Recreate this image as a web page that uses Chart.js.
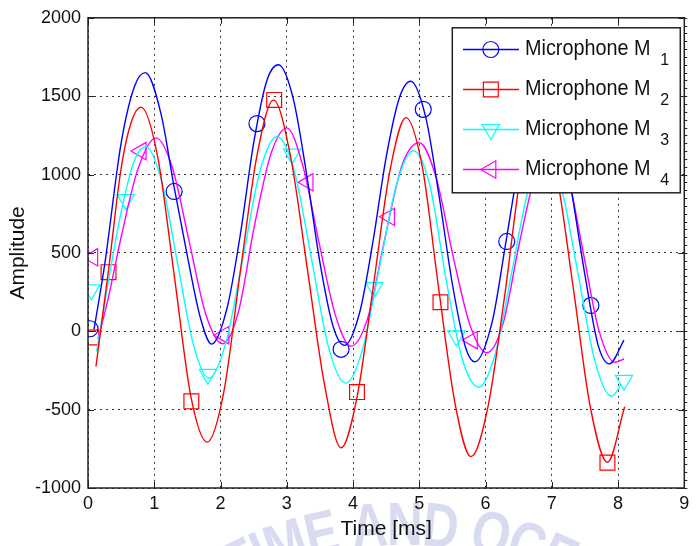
<!DOCTYPE html>
<html>
<head>
<meta charset="utf-8">
<script src="https://cdn.jsdelivr.net/npm/chart.js@4.4.0/dist/chart.umd.min.js"></script>
<style>
  html, body { margin: 0; padding: 0; background: #fff; }
</style>
</head>
<body>
<canvas id="chart" width="696" height="546"></canvas>
<script>
// axis ticks
const xTicks = [0, 1, 2, 3, 4, 5, 6, 7, 8, 9];
const yTicks = [-1000, -500, 0, 500, 1000, 1500, 2000];

// microphone M1 (blue)
const m1Time = [0.09, 0.25, 0.5, 0.7, 0.865, 1.1, 1.3, 1.5, 1.7, 1.865, 2.1, 2.3, 2.5, 2.7, 2.875, 3.1, 3.3, 3.5, 3.7, 3.87, 4.1, 4.3, 4.5, 4.7, 4.87, 5.1, 5.3, 5.5, 5.7, 5.84, 6.1, 6.3, 6.5, 6.7, 6.87, 7.1, 7.3, 7.5, 7.7, 7.87, 8.09];
const m1Amp = [10, 420, 1200, 1560, 1650, 1390, 920, 480, 80, -82, 150, 620, 1200, 1600, 1700, 1480, 1000, 440, 30, -90, 120, 570, 1110, 1490, 1595, 1360, 860, 300, -105, -195, 60, 550, 1060, 1480, 1600, 1370, 890, 360, -90, -208, -56];
const m1MarkT = [0.03, 1.30, 2.55, 3.82, 5.06, 6.32, 7.59];
const m1MarkV = [16, 892, 1325, -115, 1416, 573, 165];

// microphone M2 (red)
const m2Time = [0.12, 0.31, 0.5, 0.65, 0.8, 1.05, 1.3, 1.55, 1.8, 2.05, 2.3, 2.55, 2.8, 3.055, 3.31, 3.565, 3.82, 4.065, 4.31, 4.555, 4.8, 5.045, 5.29, 5.535, 5.78, 6.035, 6.29, 6.545, 6.8, 7.06, 7.32, 7.58, 7.84, 8.1];
const m2Amp = [-225, 390, 1040, 1330, 1430, 1117, 361, -410, -707, -387, 384, 1120, 1475, 1120, 400, -330, -743, -410, 300, 1020, 1363, 1050, 282, -450, -800, -485, 230, 1035, 1350, 1030, 290, -480, -836, -482];
const m2MarkT = [0.05, 0.31, 1.56, 2.81, 4.06, 5.32, 7.84];
const m2MarkV = [-40, 377, -447, 1476, -388, 185, -838];

// microphone M3 (cyan)
const m3Time = [0.13, 0.25, 0.5, 0.7, 0.875, 1.11, 1.35, 1.59, 1.825, 2.08, 2.34, 2.59, 2.85, 3.11, 3.37, 3.63, 3.89, 4.145, 4.4, 4.655, 4.91, 5.16, 5.405, 5.65, 5.9, 6.15, 6.4, 6.65, 6.9, 7.15, 7.4, 7.65, 7.9, 8.05];
const m3Amp = [-130, 175, 760, 1090, 1177, 960, 438, -84, -300, -74, 470, 1014, 1241, 1030, 470, -101, -331, -114, 410, 934, 1152, 931, 330, -180, -357, -139, 386, 911, 1130, 903, 357, -189, -415, -340];
const m3MarkT = [0.05, 0.57, 1.81, 3.08, 4.32, 5.56, 8.09];
const m3MarkV = [265, 840, -275, 1130, 278, -30, -313];

// microphone M4 (magenta)
const m4Time = [0.15, 0.3, 0.5, 0.75, 1.025, 1.275, 1.525, 1.775, 2.03, 2.27, 2.515, 2.76, 3.0, 3.24, 3.485, 3.73, 3.97, 4.23, 4.485, 4.74, 5.0, 5.255, 5.51, 5.765, 6.02, 6.265, 6.51, 6.755, 7.0, 7.24, 7.475, 7.71, 7.95, 8.09];
const m4Amp = [-50, 200, 600, 1030, 1234, 1042, 577, 112, -80, 122, 680, 1130, 1298, 1060, 570, 108, -95, 95, 600, 1060, 1203, 980, 480, 40, -137, 50, 560, 1003, 1200, 995, 501, 7, -198, -177];
const m4MarkT = [0.07, 0.8, 2.05, 3.32, 4.55, 5.80];
const m4MarkV = [472, 1150, -25, 950, 730, -57];

const legendNames = ['Microphone M', 'Microphone M', 'Microphone M', 'Microphone M'];
const legendSubs = ['1', '2', '3', '4'];
const sealText = 'KOREA MARITIME AND OCEAN UNIVERSITY';

const FONT = '"Liberation Sans", Arial, sans-serif';
Chart.defaults.font.family = FONT;
Chart.defaults.color = '#111';

const pts = (xs, ys) => xs.map((x, i) => ({ x: x, y: ys[i] }));

const series = [
    { c: '#0000ff', t: m1Time, v: m1Amp, mt: m1MarkT, mv: m1MarkV, style: 'circle', rot: 0, r: 8 },
    { c: '#ff0000', t: m2Time, v: m2Amp, mt: m2MarkT, mv: m2MarkV, style: 'rect', rot: 0, r: 10.5 },
    { c: '#00ffff', t: m3Time, v: m3Amp, mt: m3MarkT, mv: m3MarkV, style: 'triangle', rot: 180, r: 10 },
    { c: '#ff00ff', t: m4Time, v: m4Amp, mt: m4MarkT, mv: m4MarkV, style: 'triangle', rot: -90, r: 10 }
];

const datasets = [];
series.forEach(s => {
    datasets.push({
        data: pts(s.t, s.v),
        borderColor: s.c,
        borderWidth: 1.4,
        pointRadius: 0,
        cubicInterpolationMode: 'monotone',
        fill: false
    });
});
series.forEach(s => {
    datasets.push({
        data: pts(s.mt, s.mv),
        showLine: false,
        borderColor: s.c,
        backgroundColor: 'rgba(0,0,0,0)',
        pointStyle: s.style,
        pointRotation: s.rot,
        pointRadius: s.r,
        pointBorderWidth: 1.2
    });
});

// faint seal lettering behind the plot
const sealPlugin = {
    id: 'seal',
    beforeDraw(chart) {
        const ctx = chart.ctx;
        ctx.save();
        ctx.font = 'bold 62px ' + FONT;
        ctx.fillStyle = 'rgba(120,130,200,0.28)';
        ctx.textAlign = 'center';
        ctx.textBaseline = 'alphabetic';
        const sx = 0.8, cx = 405, cy = 900, r = 355;
        const chars = [...sealText];
        const w = chars.map(ch => ctx.measureText(ch).width * sx);
        let acc = 0;
        const mid = chars.map((ch, i) => { const m = acc + w[i] / 2; acc += w[i]; return m; });
        const centre = mid[sealText.indexOf('AND') + 1];
        chars.forEach((ch, i) => {
            const a = (mid[i] - centre) / (r + 20);
            ctx.save();
            ctx.translate(cx + r * Math.sin(a), cy - r * Math.cos(a));
            ctx.rotate(a);
            ctx.scale(sx, 1);
            ctx.fillText(ch, 0, 0);
            ctx.restore();
        });
        ctx.restore();
    }
};

// box round the axes, inward ticks, minor ticks on the right
const framePlugin = {
    id: 'frame',
    afterDatasetsDraw(chart) {
        const { ctx, chartArea: a, scales: { x, y } } = chart;
        ctx.save();
        ctx.strokeStyle = '#222';
        ctx.lineWidth = 1.5;
        ctx.strokeRect(a.left, a.top, a.right - a.left, a.bottom - a.top);
        ctx.lineWidth = 1;
        ctx.beginPath();
        const tk = 6;
        x.ticks.forEach(t => {
            const px = Math.round(x.getPixelForValue(t.value)) + 0.5;
            ctx.moveTo(px, a.bottom); ctx.lineTo(px, a.bottom - tk);
            ctx.moveTo(px, a.top); ctx.lineTo(px, a.top + tk);
        });
        y.ticks.forEach(t => {
            const py = Math.round(y.getPixelForValue(t.value)) + 0.5;
            ctx.moveTo(a.left, py); ctx.lineTo(a.left + tk, py);
            ctx.moveTo(a.right, py); ctx.lineTo(a.right - tk, py);
        });
        for (let v = y.min; v <= y.max; v += 50) {
            const py = Math.round(y.getPixelForValue(v)) + 0.5;
            ctx.moveTo(a.right, py); ctx.lineTo(a.right + 3, py);
        }
        ctx.stroke();
        ctx.restore();
    }
};

// legend box in the upper right corner of the axes
const legendPlugin = {
    id: 'boxLegend',
    afterDatasetsDraw(chart) {
        const { ctx, chartArea: a } = chart;
        const w = 228, h = 165;
        const left = a.right - 4 - w, top = a.top + 10;
        ctx.save();
        ctx.fillStyle = '#fff';
        ctx.fillRect(left, top, w, h);
        ctx.strokeStyle = '#222';
        ctx.lineWidth = 1.5;
        ctx.strokeRect(left, top, w, h);
        series.forEach((s, i) => {
            const yy = top + 21.7 + i * 40;
            ctx.strokeStyle = s.c;
            ctx.lineWidth = 1.4;
            ctx.beginPath();
            ctx.moveTo(left + 10.7, yy);
            ctx.lineTo(left + 66.7, yy);
            ctx.stroke();
            ctx.fillStyle = 'rgba(0,0,0,0)';
            ctx.lineWidth = 1.2;
            Chart.helpers.drawPoint(ctx, { pointStyle: s.style, rotation: s.rot, radius: s.r, borderWidth: 1.2 }, left + 38.5, yy);

            ctx.fillStyle = '#111';
            ctx.textBaseline = 'alphabetic';
            ctx.textAlign = 'left';
            ctx.save();
            ctx.translate(left + 72.7, yy + 5);
            ctx.scale(0.9, 1);
            ctx.font = '22px ' + FONT;
            ctx.fillText(legendNames[i], 0, 0);
            ctx.restore();
            ctx.font = '16px ' + FONT;
            ctx.fillText(legendSubs[i], left + 208, yy + 15);
        });
        ctx.restore();
    }
};

new Chart(document.getElementById('chart'), {
    type: 'line',
    data: { datasets: datasets },
    options: {
        responsive: false,
        animation: false,
        events: [],
        layout: { padding: { top: 15, right: 8, left: 0, bottom: 0 } },
        plugins: {
            legend: { display: false },
            tooltip: { enabled: false }
        },
        scales: {
            x: {
                type: 'linear',
                min: 0,
                max: 9,
                afterFit: s => { s.height = 58; },
                afterBuildTicks: s => { s.ticks = xTicks.map(v => ({ value: v })); },
                ticks: { font: { size: 18 }, color: '#111', padding: 5, maxRotation: 0, callback: v => String(v) },
                grid: { color: '#333', lineWidth: 1, drawTicks: false },
                border: { display: false, dash: [2, 4] },
                title: { display: true, text: 'Time [ms]', color: '#111', font: { size: 21 }, padding: { top: 0, bottom: 4 } }
            },
            y: {
                min: -1000,
                max: 2000,
                afterFit: s => { s.width = 88; },
                afterBuildTicks: s => { s.ticks = yTicks.map(v => ({ value: v })); },
                ticks: { font: { size: 18 }, color: '#111', padding: 7, callback: v => String(v) },
                grid: { color: '#333', lineWidth: 1, drawTicks: false },
                border: { display: false, dash: [2, 4] },
                title: { display: true, text: 'Amplitude', color: '#111', font: { size: 21 }, padding: { top: 6, bottom: 0 } }
            }
        }
    },
    plugins: [sealPlugin, framePlugin, legendPlugin]
});
</script>
</body>
</html>
